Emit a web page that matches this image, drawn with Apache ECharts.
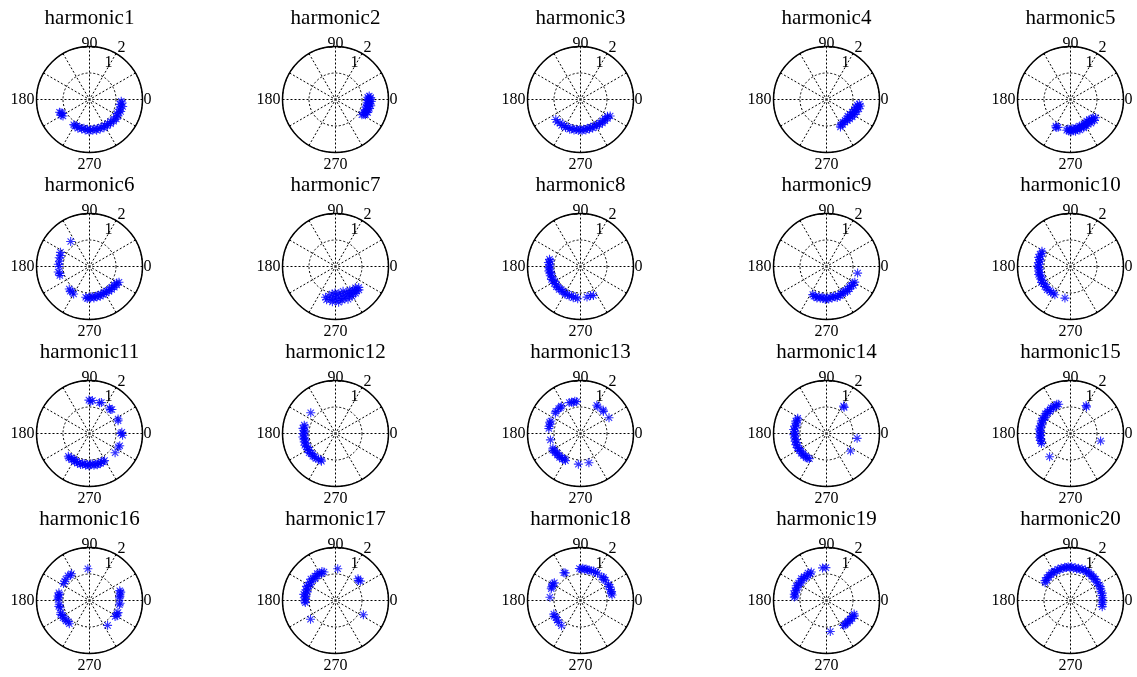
<!DOCTYPE html>
<html>
<head>
<meta charset="utf-8">
<title>harmonic polar plots</title>
<script src="https://cdn.jsdelivr.net/npm/echarts@6/dist/echarts.min.js"></script>
<style>
  html, body { margin: 0; padding: 0; background: #fff; }
  #chart { width: 1137px; height: 677px; }
</style>
</head>
<body>
<div id="chart"></div>
<script>
// every point is [angle in degrees, magnitude]
const harmonic1 = [[357,1.20],[354,1.24],[351,1.17],[348,1.28],[345,1.22],[342,1.19],[339,1.26],[336,1.21],[333,1.16],[330,1.24],[327,1.19],[324,1.25],[321,1.18],[318,1.22],[314,1.16],[311,1.21],[307,1.14],[304,1.19],[300,1.15],[297,1.20],[293,1.13],[290,1.18],[286,1.14],[283,1.19],[279,1.12],[276,1.17],[272,1.14],[269,1.19],[266,1.13],[262,1.16],[259,1.11],[255,1.15],[251,1.12],[248,1.17],[244,1.10],[241,1.14],[238,1.12],[212,1.18],[209,1.22],[207,1.15],[205,1.19],[203,1.23]];
const harmonic2 = [[6,1.28],[4,1.22],[3,1.33],[1,1.25],[0,1.30],[358,1.22],[357,1.35],[356,1.27],[354,1.20],[353,1.31],[352,1.25],[350,1.35],[349,1.22],[348,1.28],[346,1.18],[345,1.32],[344,1.24],[342,1.29],[341,1.20],[339,1.26],[338,1.31],[336,1.22],[335,1.18],[333,1.27],[332,1.21],[330,1.15]];
const harmonic3 = [[331,1.28],[328,1.20],[325,1.24],[322,1.18],[319,1.22],[316,1.16],[313,1.21],[310,1.15],[307,1.19],[303,1.13],[300,1.18],[297,1.12],[293,1.17],[290,1.11],[287,1.16],[283,1.12],[280,1.17],[276,1.13],[273,1.18],[269,1.12],[266,1.17],[262,1.13],[258,1.18],[254,1.14],[250,1.19],[246,1.15],[242,1.20],[238,1.16],[234,1.21],[229,1.17],[224,1.22],[219,1.20]];
const harmonic4 = [[352,1.25],[350,1.18],[349,1.30],[347,1.22],[345,1.15],[344,1.27],[342,1.20],[340,1.12],[338,1.24],[336,1.17],[334,1.08],[332,1.20],[330,1.13],[328,1.05],[326,1.17],[324,1.10],[322,1.02],[320,1.14],[318,1.07],[315,1.12],[312,1.05],[309,1.10],[306,1.06],[303,1.12],[299,1.10],[297,1.16]];
const harmonic5 = [[324,1.17],[321,1.10],[319,1.20],[317,1.08],[315,1.14],[313,1.04],[311,1.18],[309,1.09],[307,1.02],[305,1.13],[303,1.07],[301,1.16],[299,1.05],[297,1.11],[295,1.18],[293,1.08],[291,1.14],[289,1.06],[287,1.20],[285,1.11],[283,1.16],[281,1.09],[279,1.21],[277,1.13],[275,1.18],[273,1.10],[271,1.22],[269,1.15],[267,1.19],[265,1.12],[263,1.17],[246,1.15],[243,1.19],[241,1.14]];
const harmonic6 = [[332,1.26],[329,1.20],[326,1.24],[323,1.17],[320,1.22],[317,1.15],[314,1.20],[311,1.14],[308,1.19],[305,1.13],[302,1.18],[299,1.12],[296,1.17],[293,1.14],[290,1.19],[287,1.13],[284,1.18],[281,1.15],[278,1.20],[275,1.14],[272,1.19],[269,1.16],[266,1.21],[263,1.17],[240,1.20],[236,1.16],[232,1.18],[228,1.14],[197,1.17],[193,1.15],[190,1.20],[180,1.14],[176,1.18],[170,1.15],[164,1.19],[159,1.16],[154,1.22],[127,1.18]];
const harmonic7 = [[252,1.22],[255,1.30],[258,1.15],[261,1.26],[263,1.05],[265,1.34],[267,1.18],[269,1.00],[271,1.28],[273,1.12],[275,1.35],[277,1.03],[279,1.22],[281,1.30],[283,1.10],[285,1.25],[287,0.98],[289,1.18],[291,1.32],[293,1.08],[295,1.24],[297,1.14],[299,1.29],[301,1.05],[303,1.20],[305,1.12],[307,1.26],[309,1.16],[311,1.22],[313,1.10],[315,1.25],[318,1.18]];
const harmonic8 = [[167,1.20],[170,1.16],[173,1.22],[176,1.18],[179,1.14],[182,1.20],[185,1.16],[188,1.21],[191,1.17],[194,1.13],[197,1.19],[200,1.15],[204,1.20],[207,1.16],[210,1.12],[213,1.18],[217,1.14],[220,1.19],[223,1.15],[227,1.18],[230,1.13],[234,1.17],[237,1.15],[241,1.20],[245,1.16],[249,1.19],[253,1.15],[257,1.21],[261,1.17],[265,1.22],[282,1.18],[289,1.16],[294,1.20]];
const harmonic9 = [[348,1.20],[331,1.22],[328,1.17],[325,1.24],[322,1.19],[319,1.15],[316,1.21],[313,1.17],[310,1.23],[307,1.18],[304,1.14],[301,1.20],[298,1.16],[295,1.22],[292,1.18],[289,1.24],[286,1.19],[283,1.15],[280,1.21],[277,1.17],[274,1.23],[271,1.19],[268,1.25],[265,1.20],[262,1.16],[259,1.22],[256,1.18],[253,1.24],[250,1.20],[247,1.22],[244,1.18]];
const harmonic10 = [[152,1.22],[155,1.18],[158,1.24],[161,1.19],[164,1.25],[167,1.20],[170,1.16],[173,1.22],[176,1.18],[179,1.24],[182,1.20],[185,1.16],[188,1.22],[191,1.18],[194,1.24],[197,1.20],[200,1.16],[203,1.22],[206,1.19],[209,1.25],[212,1.21],[215,1.17],[218,1.23],[221,1.20],[225,1.24],[229,1.20],[233,1.23],[237,1.19],[241,1.22],[260,1.21]];
const harmonic11 = [[91,1.26],[88,1.22],[85,1.25],[72,1.22],[69,1.25],[52,1.22],[49,1.20],[47,1.24],[27,1.21],[24,1.18],[2,1.22],[0,1.18],[357,1.25],[338,1.23],[335,1.20],[323,1.21],[227,1.17],[230,1.21],[233,1.15],[236,1.19],[239,1.14],[242,1.20],[245,1.16],[248,1.21],[251,1.17],[254,1.22],[257,1.18],[260,1.15],[263,1.21],[266,1.17],[269,1.22],[272,1.18],[275,1.15],[278,1.21],[281,1.17],[284,1.22],[287,1.18],[290,1.20],[293,1.16],[296,1.19],[299,1.17]];
const harmonic12 = [[140,1.22],[165,1.22],[168,1.18],[171,1.24],[174,1.20],[177,1.16],[180,1.22],[183,1.18],[186,1.24],[189,1.20],[192,1.16],[195,1.22],[198,1.18],[201,1.24],[204,1.20],[207,1.16],[210,1.22],[213,1.18],[216,1.23],[219,1.19],[222,1.16],[225,1.21],[228,1.18],[232,1.20],[236,1.16],[241,1.14],[243,1.17]];
const harmonic13 = [[97,1.21],[100,1.24],[103,1.20],[106,1.23],[110,1.24],[125,1.26],[128,1.23],[131,1.25],[138,1.25],[141,1.22],[157,1.21],[160,1.24],[163,1.19],[167,1.22],[171,1.21],[192,1.16],[208,1.18],[211,1.22],[214,1.17],[217,1.20],[220,1.15],[223,1.19],[226,1.16],[229,1.20],[232,1.15],[235,1.18],[238,1.14],[241,1.17],[266,1.16],[286,1.15],[60,1.23],[57,1.20],[46,1.23],[44,1.20],[29,1.23]];
const harmonic14 = [[58,1.22],[56,1.19],[152,1.23],[155,1.20],[158,1.25],[161,1.21],[164,1.17],[167,1.23],[170,1.19],[173,1.25],[176,1.21],[179,1.17],[182,1.23],[185,1.19],[188,1.22],[191,1.18],[194,1.22],[197,1.18],[200,1.23],[203,1.19],[206,1.22],[209,1.18],[212,1.21],[215,1.17],[218,1.21],[221,1.17],[224,1.20],[227,1.16],[230,1.19],[233,1.17],[236,1.15],[351,1.17],[324,1.12]];
const harmonic15 = [[112,1.19],[115,1.22],[118,1.16],[121,1.21],[124,1.17],[127,1.22],[130,1.18],[133,1.14],[136,1.20],[139,1.16],[142,1.21],[145,1.17],[148,1.13],[151,1.19],[154,1.15],[157,1.20],[160,1.16],[163,1.12],[166,1.18],[169,1.14],[172,1.19],[175,1.15],[178,1.11],[181,1.17],[184,1.13],[187,1.18],[190,1.14],[193,1.17],[196,1.13],[199,1.16],[59,1.17],[61,1.21],[228,1.18],[346,1.17]];
const harmonic16 = [[93,1.20],[124,1.22],[127,1.19],[131,1.24],[138,1.20],[142,1.18],[147,1.17],[166,1.19],[169,1.16],[172,1.20],[175,1.17],[178,1.19],[188,1.15],[191,1.18],[194,1.14],[203,1.18],[206,1.21],[209,1.16],[213,1.19],[217,1.15],[221,1.17],[225,1.13],[229,1.16],[18,1.20],[15,1.22],[12,1.18],[8,1.16],[5,1.14],[355,1.16],[352,1.14],[337,1.17],[334,1.15],[331,1.19],[328,1.14],[306,1.16]];
const harmonic17 = [[112,1.16],[115,1.21],[118,1.14],[121,1.19],[124,1.23],[127,1.16],[130,1.21],[133,1.13],[136,1.18],[139,1.23],[142,1.15],[145,1.20],[148,1.12],[151,1.17],[154,1.22],[157,1.14],[160,1.19],[163,1.11],[166,1.17],[169,1.22],[172,1.13],[175,1.18],[178,1.12],[181,1.17],[184,1.14],[86,1.20],[44,1.18],[41,1.15],[38,1.19],[333,1.18],[217,1.18]];
const harmonic18 = [[92,1.21],[89,1.18],[86,1.22],[83,1.19],[80,1.21],[77,1.18],[74,1.20],[70,1.19],[66,1.22],[62,1.20],[58,1.21],[48,1.20],[45,1.23],[42,1.19],[39,1.21],[30,1.22],[27,1.19],[24,1.23],[20,1.20],[16,1.22],[13,1.19],[10,1.21],[121,1.22],[119,1.19],[146,1.19],[149,1.22],[152,1.18],[155,1.21],[158,1.19],[174,1.16],[207,1.13],[211,1.16],[215,1.12],[220,1.15],[225,1.17],[233,1.19]];
const harmonic19 = [[118,1.22],[121,1.18],[124,1.25],[127,1.20],[130,1.16],[133,1.23],[136,1.19],[139,1.26],[142,1.21],[145,1.17],[148,1.24],[151,1.20],[154,1.27],[157,1.22],[160,1.18],[163,1.25],[166,1.21],[169,1.24],[172,1.20],[174,1.22],[97,1.24],[91,1.24],[334,1.16],[331,1.20],[328,1.14],[325,1.18],[322,1.13],[319,1.17],[316,1.12],[313,1.16],[310,1.13],[307,1.16],[304,1.14],[277,1.18]];
const harmonic20 = [[145,1.17],[142,1.22],[139,1.18],[136,1.24],[133,1.20],[130,1.26],[127,1.22],[124,1.27],[121,1.23],[118,1.26],[115,1.22],[112,1.27],[109,1.24],[106,1.28],[103,1.24],[100,1.27],[97,1.25],[94,1.28],[91,1.24],[88,1.27],[85,1.22],[82,1.26],[79,1.21],[76,1.25],[73,1.22],[70,1.27],[67,1.23],[64,1.28],[61,1.24],[58,1.27],[55,1.23],[52,1.26],[49,1.22],[46,1.25],[43,1.21],[40,1.24],[36,1.20],[33,1.23],[28,1.21],[25,1.24],[21,1.22],[17,1.19],[13,1.23],[9,1.20],[5,1.22],[1,1.19],[357,1.22],[353,1.20],[349,1.22]];

const angleLabels = [0, 90, 180, 270];
const radiusTicks = [1, 2];

const harmonics = [
  harmonic1, harmonic2, harmonic3, harmonic4, harmonic5,
  harmonic6, harmonic7, harmonic8, harmonic9, harmonic10,
  harmonic11, harmonic12, harmonic13, harmonic14, harmonic15,
  harmonic16, harmonic17, harmonic18, harmonic19, harmonic20
];

// layout of the 4 x 5 grid of subplots
const colX = [89.5, 335.5, 580.5, 826.5, 1070.5];
const rowY = [99.5, 266.5, 433.5, 600.5];
const R = 53;
const font = '"Liberation Serif", "Times New Roman", serif';
const dotted = { color: '#000', width: 1, type: [2, 2] };
// radial label spots (px from centre) for the "1" and "2" ticks
const tickSpot = { 1: [19, -37], 2: [32, -52] };
const asterisk = 'path://M0 5L10 5M5 0L5 10M1.5 1.5L8.5 8.5M1.5 8.5L8.5 1.5';

// angle labels sit at different gaps from the rim, so each side gets its own padding
const labelText = { fontFamily: font, fontSize: 16, color: '#000' };
const labelRich = {
  e: Object.assign({ padding: [0, 0, 0, 6] }, labelText),
  n: Object.assign({ padding: [0, 0, 0, 0] }, labelText),
  w: Object.assign({ padding: [0, 7, 0, 0] }, labelText),
  s: Object.assign({ padding: [9, 0, 0, 0] }, labelText)
};
const labelKey = { 0: 'e', 90: 'n', 180: 'w', 270: 's' };

const polar = [], angleAxis = [], radiusAxis = [], series = [], title = [], graphic = [];

harmonics.forEach(function (pts, i) {
  const cx = colX[i % 5];
  const cy = rowY[Math.floor(i / 5)];
  polar.push({ center: [cx, cy], radius: R });
  angleAxis.push({
    polarIndex: i,
    type: 'value',
    min: 0,
    max: 360,
    interval: 30,
    startAngle: 0,
    clockwise: false,
    axisLine: { lineStyle: { color: '#000', width: 1.5 } },
    axisTick: { show: false },
    axisLabel: {
      margin: -5,
      color: '#000',
      fontFamily: font,
      fontSize: 16,
      rich: labelRich,
      formatter: function (v) {
        return angleLabels.indexOf(v) >= 0 ? '{' + labelKey[v] + '|' + v + '}' : '';
      }
    },
    splitLine: { lineStyle: dotted }
  });
  radiusAxis.push({
    polarIndex: i,
    type: 'value',
    min: 0,
    max: 2,
    interval: 1,
    axisLine: { show: false },
    axisTick: { show: false },
    axisLabel: { show: false },
    splitLine: { lineStyle: dotted }
  });
  series.push({
    type: 'scatter',
    coordinateSystem: 'polar',
    polarIndex: i,
    symbol: asterisk,
    symbolSize: 9,
    itemStyle: { color: 'rgba(0,0,255,0)', borderColor: '#0000ff', borderWidth: 1.1 },
    data: pts.map(function (p) { return [p[1], p[0]]; })
  });
  title.push({
    text: 'harmonic' + (i + 1),
    left: cx,
    top: cy - 92,
    textAlign: 'center',
    padding: 0,
    textStyle: { fontFamily: font, fontSize: 21, fontWeight: 'normal', color: '#000' }
  });
  radiusTicks.forEach(function (t) {
    graphic.push({
      type: 'text',
      x: cx + tickSpot[t][0],
      y: cy + tickSpot[t][1],
      z: 10,
      style: {
        text: String(t),
        fill: '#000',
        font: '16px ' + font,
        align: 'center',
        verticalAlign: 'middle'
      }
    });
  });
});

const chart = echarts.init(document.getElementById('chart'));
chart.setOption({
  animation: false,
  backgroundColor: '#fff',
  title: title,
  polar: polar,
  angleAxis: angleAxis,
  radiusAxis: radiusAxis,
  series: series,
  graphic: graphic
});
window.addEventListener('resize', function () { chart.resize(); });
</script>
</body>
</html>
